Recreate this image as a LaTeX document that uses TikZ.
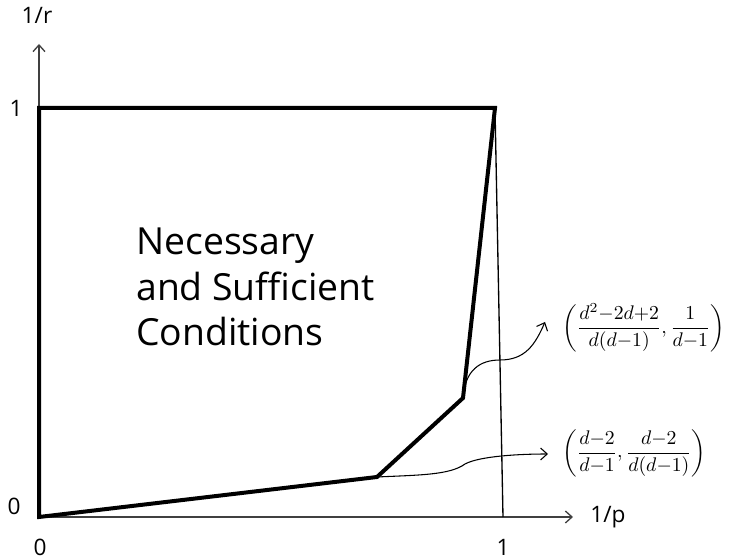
\documentclass[tikz,border=0pt]{standalone}
\usepackage{amsmath}
\usepackage{fontspec}
\setmainfont{Open Sans}
\usepackage{tikz}
\usetikzlibrary{arrows.meta}

\begin{document}
\begin{tikzpicture}[
    x=0.75pt, y=0.75pt,
    axis/.style={draw=black!75, line width=1pt, -{Straight Barb[length=5pt, width=9pt]}},
    region/.style={draw=black, line width=3pt, line join=miter},
    pointer/.style={draw=black, line width=0.8pt, -{Straight Barb[length=5pt, width=9pt]}},
    ticklabel/.style={font=\fontsize{17}{20}\selectfont, inner sep=0pt},
    corner/.style={inner sep=0pt, anchor=west, scale=1.48, transform shape}
]
\useasboundingbox (0,0) rectangle (729,560);

% Eckpunkte
\coordinate (O) at (39,43);
\coordinate (TL) at (39,452);
\coordinate (TR) at (495,452);
\coordinate (A) at (377,83);
\coordinate (B) at (463,162);
\coordinate (P1) at (503,43);
\coordinate (xend) at (573,43);
\coordinate (yend) at (39,516);

% Achsen
\draw[axis] (O) -- (xend);
\draw[axis] (O) -- (yend);
\draw[line width=1pt] (TR) -- (P1);

% Gebiet
\draw[region] (O) -- (A) -- (B) -- (TR) -- (TL) -- cycle;

% Beschriftungen
\node[ticklabel] (rlab) at (37,545) {1/r};
\node[ticklabel] (plab) at (608,43) {1/p};
\node[ticklabel] (y1) at (16,452) {1};
\node[ticklabel] (y0) at (14,54) {0};
\node[ticklabel] (x0) at (40,13) {0};
\node[ticklabel] (x1) at (503,13) {1};

\node[font=\fontsize{28}{34}\selectfont, align=left, anchor=west, inner sep=0pt] (text) at (136,273)
    {Necessary\\and Sufficient\\Conditions};

\node[corner] (Blab) at (562,232)
    {$\left(\dfrac{d^2{-}2d{+}2}{d(d{-}1)},\dfrac{1}{d{-}1}\right)$};
\node[corner] (Alab) at (562,107)
    {$\left(\dfrac{d{-}2}{d{-}1},\dfrac{d{-}2}{d(d{-}1)}\right)$};

% Pfeile
\draw[pointer] (B) .. controls (465,190) and (480,200) .. (500,200)
    .. controls (525,200) and (535,215) .. (545,238);
\draw[pointer] (A) .. controls (420,85) and (450,85) .. (465,96)
    .. controls (480,104) and (520,106) .. (548,106);

\end{tikzpicture}
\end{document}
